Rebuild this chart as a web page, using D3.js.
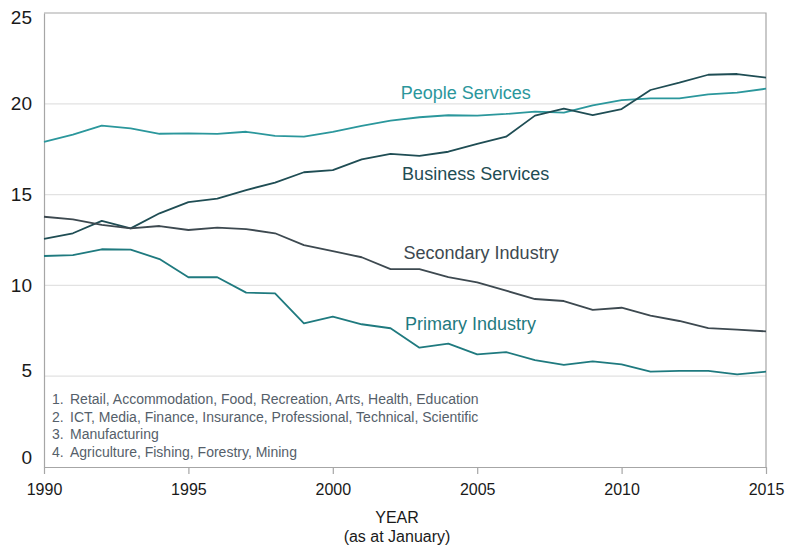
<!DOCTYPE html>
<html>
<head>
<meta charset="utf-8">
<script src="https://cdn.jsdelivr.net/npm/d3@7"></script>
<style>
  html, body { margin: 0; padding: 0; background: #fff; }
  svg { display: block; font-family: "Liberation Sans", Arial, sans-serif; }
</style>
</head>
<body>
<div id="chart"></div>
<script>
// Share of employment by industry group, 1990-2015
const years = d3.range(1990, 2016)

const peopleServices = [17.9, 18.3, 18.8, 18.65, 18.35, 18.37, 18.34, 18.46, 18.23, 18.19,
  18.45, 18.78, 19.07, 19.26, 19.37, 19.35, 19.44, 19.57, 19.51, 19.91,
  20.2, 20.3, 20.3, 20.52, 20.61, 20.83]
const businessServices = [12.56, 12.87, 13.55, 13.14, 13.97, 14.59, 14.78, 15.25, 15.66, 16.23,
  16.35, 16.94, 17.24, 17.13, 17.36, 17.79, 18.19, 19.35, 19.73, 19.38,
  19.71, 20.76, 21.16, 21.6, 21.64, 21.44]
const secondaryIndustry = [13.78, 13.64, 13.33, 13.14, 13.27, 13.05, 13.18, 13.1, 12.87, 12.22,
  11.89, 11.55, 10.9, 10.9, 10.45, 10.17, 9.71, 9.25, 9.14, 8.65,
  8.77, 8.33, 8.04, 7.65, 7.56, 7.47]
const primaryIndustry = [11.62, 11.67, 11.99, 11.97, 11.45, 10.45, 10.45, 9.6, 9.56, 7.91,
  8.28, 7.86, 7.64, 6.57, 6.79, 6.2, 6.33, 5.89, 5.62, 5.82,
  5.65, 5.25, 5.29, 5.29, 5.1, 5.25]

const seriesNames = ['People Services', 'Business Services', 'Secondary Industry', 'Primary Industry']
const yTicks = [0, 5, 10, 15, 20, 25]
const xTicks = [1990, 1995, 2000, 2005, 2010, 2015]
const notes = [
  'Retail, Accommodation, Food, Recreation, Arts, Health, Education',
  'ICT, Media, Finance, Insurance, Professional, Technical, Scientific',
  'Manufacturing',
  'Agriculture, Fishing, Forestry, Mining'
]

const series = [
  { name: seriesNames[0], values: peopleServices, color: '#2b979c', label: [2002.35, 20.25] },
  { name: seriesNames[1], values: businessServices, color: '#1f4d54', label: [2002.4, 15.8] },
  { name: seriesNames[2], values: secondaryIndustry, color: '#3d4950', label: [2002.45, 11.45] },
  { name: seriesNames[3], values: primaryIndustry, color: '#1f7a7f', label: [2002.5, 7.55] }
]

const width = 787
const height = 545
const margin = { top: 13, right: 21, bottom: 78, left: 44 }

const svg = d3.select('#chart').append('svg')
  .attr('width', width).attr('height', height)

const x = d3.scaleLinear().domain([1990, 2015]).range([margin.left, width - margin.right])
const y = d3.scaleLinear().domain([0, 25]).range([height - margin.bottom, margin.top])

// gridlines
svg.append('g')
  .selectAll('line')
  .data(yTicks.filter(t => t > 0 && t < 25))
  .join('line')
  .attr('x1', x(1990)).attr('x2', x(2015))
  .attr('y1', d => y(d)).attr('y2', d => y(d))
  .attr('stroke', '#e2e2e2').attr('stroke-width', 1.2)

// frame (top + right)
svg.append('path')
  .attr('d', `M${x(1990)},${y(25)}H${x(2015)}V${y(0)}`)
  .attr('fill', 'none').attr('stroke', '#a6a6a6').attr('stroke-width', 1.2)

// x axis
const xAxis = svg.append('g')
  .attr('transform', `translate(0,${y(0)})`)
  .call(d3.axisBottom(x).tickValues(xTicks).tickFormat(d3.format('d')).tickSizeInner(7).tickSizeOuter(0))
xAxis.select('.domain').attr('stroke', '#a6a6a6').attr('stroke-width', 1.2)
xAxis.selectAll('.tick line').attr('stroke', '#a6a6a6').attr('stroke-width', 1.2)
xAxis.selectAll('.tick text')
  .attr('y', 16).attr('dy', '0.75em')
  .style('font-size', '16px').attr('fill', '#1a1a1a')
  .style('font-family', '"Liberation Sans", Arial, sans-serif')

// y axis
const yAxis = svg.append('g')
  .attr('transform', `translate(${x(1990)},0)`)
  .call(d3.axisLeft(y).tickValues(yTicks).tickSize(0).tickPadding(12))
yAxis.select('.domain').attr('stroke', '#a6a6a6').attr('stroke-width', 1.2)
yAxis.selectAll('.tick text')
  .style('font-size', '19px').attr('fill', '#1a1a1a')
  .style('font-family', '"Liberation Sans", Arial, sans-serif')
  .attr('dy', d => d === 0 ? '-0.2em' : d === 5 ? '0.0em' : d === 25 ? '0.55em' : '0.3em')

// lines
const line = d3.line().x((d, i) => x(years[i])).y(d => y(d))
series.forEach(s => {
  svg.append('path')
    .datum(s.values)
    .attr('d', line)
    .attr('fill', 'none')
    .attr('stroke', s.color)
    .attr('stroke-width', 1.8)
    .attr('stroke-linejoin', 'round')
})

// series labels
series.forEach(s => {
  svg.append('text')
    .attr('x', x(s.label[0])).attr('y', y(s.label[1]))
    .attr('fill', s.color)
    .style('font-size', '18px')
    .text(s.name)
})

// notes
const notesG = svg.append('g').attr('fill', '#55606a').style('font-size', '14px')
notes.forEach((n, i) => {
  const ty = 404 + i * 17.6
  notesG.append('text').attr('x', 52).attr('y', ty).text(`${i + 1}.`)
  notesG.append('text').attr('x', 70).attr('y', ty).text(n)
})

// axis title
svg.append('text')
  .attr('x', 397).attr('y', 523)
  .attr('text-anchor', 'middle').attr('fill', '#1a1a1a')
  .style('font-size', '16px').text('YEAR')
svg.append('text')
  .attr('x', 397).attr('y', 542)
  .attr('text-anchor', 'middle').attr('fill', '#1a1a1a')
  .style('font-size', '16px').text('(as at January)')
</script>
</body>
</html>
